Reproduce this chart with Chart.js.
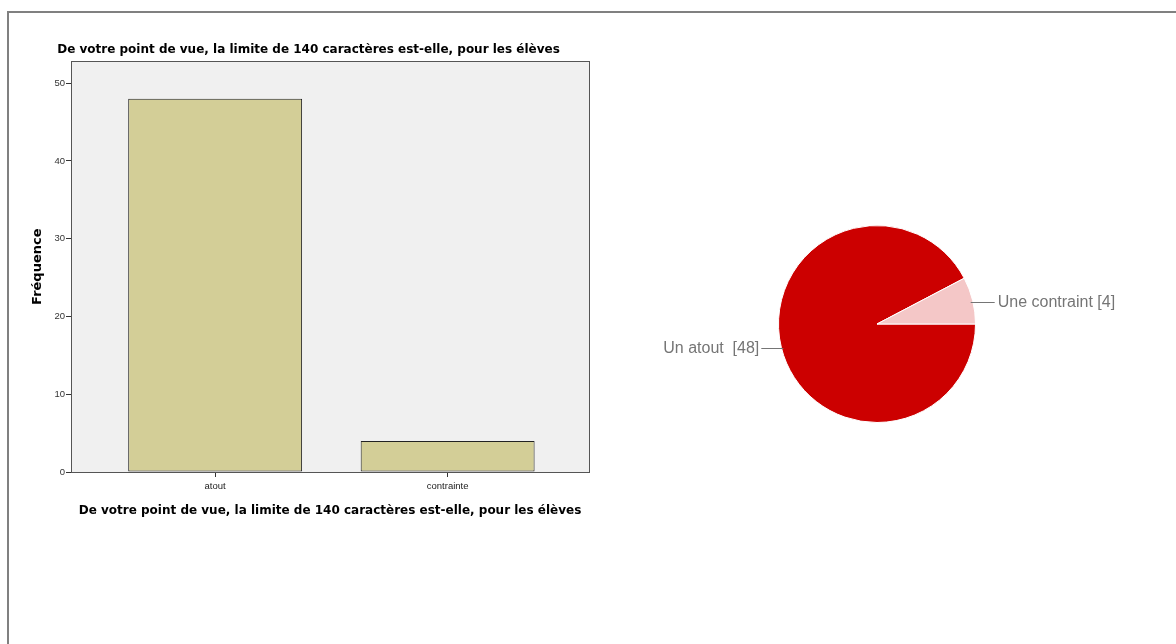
<!DOCTYPE html>
<html><head><meta charset="utf-8">
<script src="https://cdn.jsdelivr.net/npm/chart.js@4.4.1/dist/chart.umd.min.js"></script>
<style>
html,body{margin:0;padding:0;background:#fff;width:1176px;height:644px;overflow:hidden;position:relative;font-family:"Liberation Sans",Arial,sans-serif}
#frame{position:absolute;left:7px;top:11px;right:-10px;bottom:-10px;border-left:2px solid #808080;border-top:2px solid #808080}
#bar{position:absolute;left:0;top:0}
#pie{position:absolute;left:640px;top:200px}
</style></head><body>
<div id="frame"></div>
<canvas id="bar" width="620" height="540"></canvas>
<canvas id="pie" width="500" height="248"></canvas>
<script>
const titleText = "De votre point de vue, la limite de 140 caractères est-elle, pour les élèves";
const categories = ["atout", "contrainte"];
const frequencies = [48, 4];
const yTicks = [0, 10, 20, 30, 40, 50];
const yTitle = "Fréquence";
const pieLabels = ["Un atout  [48]", "Une contraint [4]"];
const pieValues = [48, 4];
const pieColors = ["#cc0000", "#f4c7c7"];

Chart.defaults.font.family = '"Liberation Sans", Arial, sans-serif';
const titleFont = {family: '"DejaVu Sans", sans-serif', size: 12, weight: 'bold'};

const plotBg = {
  id: 'plotBg',
  beforeDraw(chart) {
    const a = chart.chartArea, c = chart.ctx;
    c.save(); c.fillStyle = '#f0f0f0';
    c.fillRect(a.left, a.top, a.right - a.left, a.bottom - a.top);
    c.restore();
  },
  afterDraw(chart) {
    const a = chart.chartArea, c = chart.ctx;
    c.save(); c.strokeStyle = '#555'; c.lineWidth = 1;
    c.strokeRect(Math.round(a.left) + 0.5, Math.round(a.top) + 0.5, Math.round(a.right - a.left), Math.round(a.bottom - a.top));
    c.restore();
  }
};

new Chart(document.getElementById('bar'), {
  type: 'bar',
  data: {
    datasets: [{
      data: frequencies.map((v, i) => ({x: i, y: v})),
      backgroundColor: '#d3ce97',
      borderColor: '#222',
      borderWidth: 1,
      borderSkipped: false,
      categoryPercentage: 1,
      barPercentage: 0.748
    }]
  },
  options: {
    responsive: false, animation: false,
    layout: {padding: {left: 28, right: 31, top: 0, bottom: 20}},
    plugins: {
      legend: {display: false}, tooltip: {enabled: false},
      title: {display: true, text: titleText, color: '#000',
        font: titleFont, padding: {top: 43, bottom: 4}}
    },
    scales: {
      x: {
        type: 'linear', min: -0.62, max: 1.608, offset: false,
        afterBuildTicks(s) { s.ticks = categories.map((_, i) => ({value: i})); },
        afterFit(s) { s.height = 48; },
        ticks: {callback: v => categories[v], color: '#222', font: {size: 9.5}, padding: 4, maxRotation: 0},
        grid: {drawOnChartArea: false, offset: false, tickLength: 5, color: '#333', tickColor: '#333'},
        border: {color: '#555'},
        title: {display: true, text: titleText, color: '#000', font: titleFont, padding: {top: 4, bottom: 2}}
      },
      y: {
        min: 0, max: 52.8,
        afterBuildTicks(s) { s.ticks = yTicks.map(v => ({value: v})); },
        afterFit(s) { s.width = 43; },
        ticks: {color: '#333', font: {size: 9.5}, padding: 1},
        grid: {drawOnChartArea: false, tickLength: 5, color: '#333', tickColor: '#333'},
        border: {color: '#555'},
        title: {display: true, text: yTitle, color: '#000', font: {family: '"DejaVu Sans", sans-serif', size: 13, weight: 'bold'}, padding: {top: 2, bottom: 4}}
      }
    }
  },
  plugins: [plotBg]
});

const pieLabelPlugin = {
  id: 'pieLabels',
  afterDraw(chart) {
    const c = chart.ctx;
    const meta = chart.getDatasetMeta(0);
    c.save();
    c.font = '16px "Liberation Sans", Arial, sans-serif';
    c.fillStyle = '#757575'; c.strokeStyle = '#757575'; c.lineWidth = 1;
    c.textBaseline = 'middle';
    meta.data.forEach((arc, i) => {
      const mid = (arc.startAngle + arc.endAngle) / 2;
      const r = arc.outerRadius - 2;
      const x0 = arc.x + Math.cos(mid) * r, y0 = Math.round(arc.y + Math.sin(mid) * r) + 1.5;
      const right = Math.cos(mid) >= 0;
      const x1 = x0 + (right ? 24 : -22);
      c.beginPath(); c.moveTo(x0, y0); c.lineTo(x1, y0); c.stroke();
      c.textAlign = right ? 'left' : 'right';
      c.fillText(pieLabels[i], x1 + (right ? 3 : -2), y0);
    });
    c.restore();
  }
};

new Chart(document.getElementById('pie'), {
  type: 'pie',
  data: {labels: pieLabels, datasets: [{data: pieValues, backgroundColor: pieColors, borderColor: '#fff', borderWidth: 1}]},
  options: {
    responsive: false, animation: false, rotation: 90,
    layout: {padding: {left: 138, right: 164, top: 25, bottom: 25}},
    plugins: {legend: {display: false}, tooltip: {enabled: false}}
  },
  plugins: [pieLabelPlugin]
});
</script>
</body></html>
